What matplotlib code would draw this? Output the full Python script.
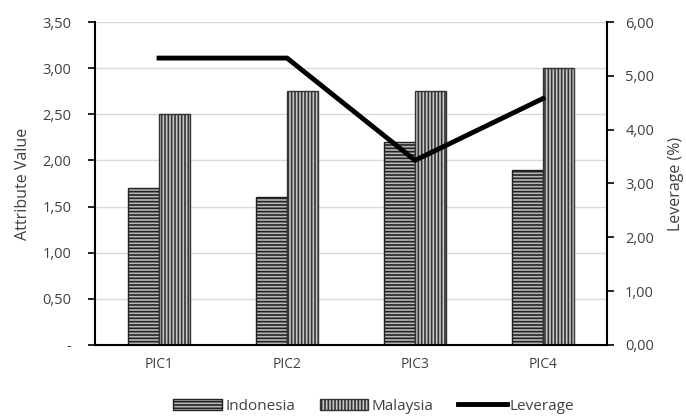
import numpy as np
import matplotlib.pyplot as plt
from matplotlib.ticker import FuncFormatter

plt.rcParams['font.family'] = ['Open Sans', 'DejaVu Sans']
plt.rcParams['hatch.linewidth'] = 1.2

# Chart data
categories = ['PIC1', 'PIC2', 'PIC3', 'PIC4']
indonesia = [1.70, 1.60, 2.20, 1.90]
malaysia = [2.50, 2.75, 2.75, 3.00]
leverage = [5.33, 5.33, 3.43, 4.58]

x = np.arange(len(categories))
width = 0.24

fig = plt.figure(figsize=(6.86, 4.2), dpi=100)
ax = fig.add_axes([0.1385, 0.1786, 0.7465, 0.769])

ax.bar(x - width / 2, indonesia, width, color='#b8b8b8', edgecolor='#222222',
       hatch='-----', linewidth=1.0, label='Indonesia', zorder=2)
ax.bar(x + width / 2, malaysia, width, color='#c8c8c8', edgecolor='#333333',
       hatch='|||||', linewidth=1.0, label='Malaysia', zorder=2)

ax.set_xlim(-0.5, len(categories) - 0.5)
ax.set_ylim(0, 3.5)
ax.set_yticks(np.arange(0, 3.51, 0.5))
ax.yaxis.set_major_formatter(FuncFormatter(
    lambda v, p: '-' if v == 0 else f'{v:.2f}'.replace('.', ',')))
ax.set_xticks(x)
ax.set_xticklabels(categories)
ax.tick_params(axis='x', length=0, pad=9, labelcolor='#404040', labelsize=10)
ax.tick_params(axis='y', direction='out', length=5, width=1.2, colors='black',
               labelcolor='#404040', labelsize=10.5, pad=12)
ax.grid(axis='y', color='#d9d9d9', linewidth=1.0, zorder=0)
ax.set_axisbelow(True)
ax.set_ylabel('Attribute Value', fontsize=11.5, color='#404040', labelpad=8)
for s in ['top', 'right']:
    ax.spines[s].set_visible(False)
ax.spines['left'].set_linewidth(1.5)
ax.spines['bottom'].set_linewidth(1.5)

# Leverage on the secondary axis
ax2 = ax.twinx()
ax2.plot(x, leverage, color='black', linewidth=3.5, label='Leverage', zorder=3)
ax2.set_ylim(0, 6)
ax2.set_yticks(np.arange(0, 6.01, 1))
ax2.yaxis.set_major_formatter(FuncFormatter(lambda v, p: f'{v:.2f}'.replace('.', ',')))
ax2.tick_params(axis='y', direction='out', length=5, width=1.2, colors='black',
                labelcolor='#404040', labelsize=10.5, pad=8)
ax2.set_ylabel('Leverage (%)', fontsize=11.5, color='#404040', labelpad=10)
for s in ['top', 'left', 'bottom']:
    ax2.spines[s].set_visible(False)
ax2.spines['right'].set_linewidth(1.5)

h1, l1 = ax.get_legend_handles_labels()
h2, l2 = ax2.get_legend_handles_labels()
fig.legend(h1 + h2, l1 + l2, loc='lower center', bbox_to_anchor=(0.545, -0.018),
           ncol=3, frameon=False, fontsize=11, handlelength=3.2,
           handleheight=0.7, handletextpad=0.2, columnspacing=1.6,
           labelcolor='#404040')

fig.savefig('out.png', dpi=100)
